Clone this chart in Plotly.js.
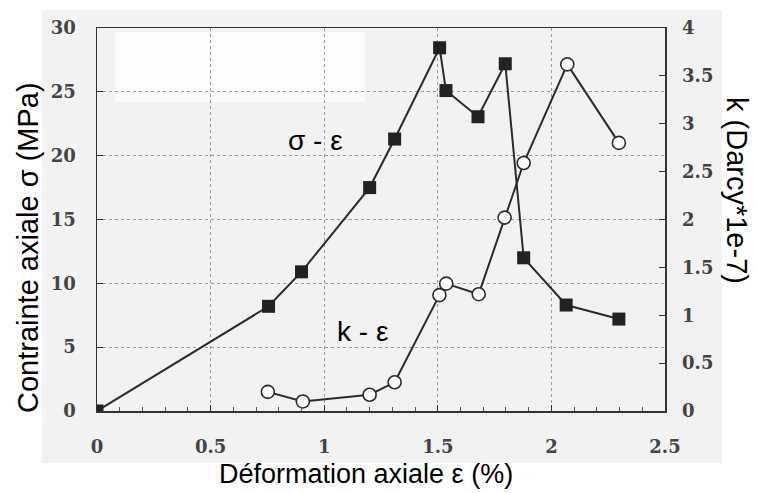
<!DOCTYPE html>
<html><head><meta charset="utf-8">
<script src="https://cdn.plot.ly/plotly-3.0.1.min.js"></script>
<style>html,body{margin:0;padding:0;background:#fff}#chart{width:757px;height:493px}</style>
</head><body><div id="chart"></div>
<script>
// σ - ε (squares, left axis, MPa)
const strainSigma = [0, 0.755, 0.90, 1.20, 1.31, 1.508, 1.536, 1.677, 1.797, 1.878, 2.065, 2.297];
const sigmaMPa    = [0, 8.2, 10.9, 17.5, 21.3, 28.45, 25.1, 23.05, 27.2, 12.0, 8.3, 7.2];
// k - ε (circles, right axis, Darcy*1e-7)
const strainK = [0.752, 0.906, 1.20, 1.31, 1.507, 1.537, 1.68, 1.794, 1.878, 2.07, 2.297];
const kDarcy  = [0.20, 0.10, 0.17, 0.30, 1.21, 1.33, 1.22, 2.02, 2.59, 3.62, 2.80];
const xTicks = [0, 0.5, 1, 1.5, 2, 2.5];
const xTickLabels = ['0', '0.5', '1', '1.5', '2', '2.5'];
const yTicks = [0, 5, 10, 15, 20, 25, 30];
const y2Ticks = [0, 0.5, 1, 1.5, 2, 2.5, 3, 3.5, 4];
const xTitle = 'Déformation axiale ε (%)';
const yTitle = 'Contrainte axiale σ (MPa)';
const y2Title = 'k (Darcy*1e-7)';

const tickFont = {family: 'DejaVu Serif, serif', size: 18, color: '#444', weight: 'bold'};
const titleFont = {family: 'Liberation Sans, Arial, sans-serif', size: 29, color: '#000'};
const xTitleFont = {family: 'Liberation Sans, Arial, sans-serif', size: 27, color: '#000'};
const labelFont = {family: 'Liberation Sans, Arial, sans-serif', size: 28, color: '#000'};

const traces = [
  {x: strainSigma, y: sigmaMPa, type: 'scatter', mode: 'lines+markers', yaxis: 'y',
   line: {color: '#2b2b2b', width: 2},
   marker: {symbol: 'square', size: 13, color: '#222'}, showlegend: false},
  {x: strainK, y: kDarcy, type: 'scatter', mode: 'lines+markers', yaxis: 'y2',
   line: {color: '#2b2b2b', width: 2},
   marker: {symbol: 'circle', size: 13, color: '#fff', line: {color: '#2b2b2b', width: 1.6}}, showlegend: false}
];

const W = 568, H = 383, L = 97, B = 411;
const layout = {
  width: 757, height: 493,
  margin: {l: 97, r: 92, t: 28, b: 82},
  paper_bgcolor: '#fff', plot_bgcolor: 'rgba(0,0,0,0)',
  shapes: [
    {type: 'rect', xref: 'paper', yref: 'paper', layer: 'below',
     x0: (42-L)/W, x1: (722-L)/W, y0: (B-463)/H, y1: (B-10)/H,
     fillcolor: '#f2f2f2', line: {width: 0}},
    {type: 'rect', xref: 'paper', yref: 'paper', layer: 'between',
     x0: (115-L)/W, x1: (365-L)/W, y0: (B-102)/H, y1: (B-32)/H,
     fillcolor: '#fbfbfb', line: {width: 0}}
  ],
  xaxis: {range: [0, 2.5], tickvals: xTicks, ticktext: xTickLabels,
    showline: true, linecolor: '#333', linewidth: 1.5, mirror: true,
    ticks: 'inside', ticklen: 6, tickcolor: '#333',
    minor: {dtick: 0.1, ticks: 'inside', ticklen: 4, tickcolor: '#555', showgrid: false},
    showgrid: true, gridcolor: '#999', griddash: 'dot', gridwidth: 1,
    zeroline: false, tickfont: tickFont, ticklabelstandoff: 19},
  yaxis: {range: [0, 30], tickvals: yTicks,
    showline: true, linecolor: '#333', linewidth: 1.5,
    ticks: 'inside', ticklen: 6, tickcolor: '#333',
    showgrid: true, gridcolor: '#999', griddash: 'dot', gridwidth: 1,
    zeroline: false, tickfont: tickFont, ticklabelstandoff: 16},
  yaxis2: {range: [0, 4], tickvals: y2Ticks, overlaying: 'y', side: 'right',
    showline: true, linecolor: '#333', linewidth: 1.5,
    ticks: 'inside', ticklen: 6, tickcolor: '#333',
    showgrid: false, zeroline: false, tickfont: tickFont, ticklabelstandoff: 12},
  annotations: [
    {text: 'σ - ε', x: 0.96, y: 21.2, xref: 'x', yref: 'y', showarrow: false, font: labelFont},
    {text: 'k - ε', x: 1.17, y: 6.26, xref: 'x', yref: 'y', showarrow: false, font: labelFont},
    {text: xTitle, xref: 'paper', yref: 'paper', x: (366-L)/W, y: (B-474)/H,
     xanchor: 'center', yanchor: 'middle', showarrow: false, font: xTitleFont},
    {text: yTitle, xref: 'paper', yref: 'paper', x: (28-L)/W, y: (B-248)/H,
     xanchor: 'center', yanchor: 'middle', showarrow: false, textangle: -90, font: titleFont},
    {text: y2Title, xref: 'paper', yref: 'paper', x: (737-L)/W, y: (B-190)/H,
     xanchor: 'center', yanchor: 'middle', showarrow: false, textangle: 90, font: titleFont}
  ]
};

Plotly.newPlot('chart', traces, layout, {displayModeBar: false, staticPlot: true});
</script>
</body></html>
